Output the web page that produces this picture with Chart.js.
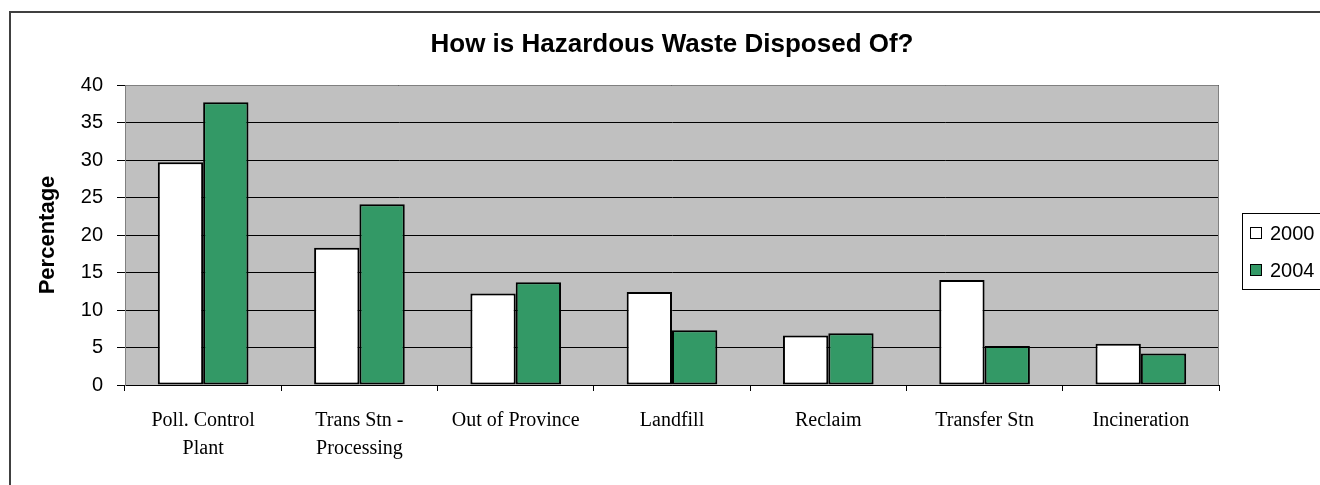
<!DOCTYPE html>
<html><head><meta charset="utf-8">
<script src="https://cdn.jsdelivr.net/npm/chart.js@4"></script>
<style>html,body{margin:0;padding:0;background:#fff;overflow:hidden}#wrap{width:1320px;height:485px;position:relative}</style>
</head><body><div id="wrap"><canvas id="c" width="1320" height="485"></canvas></div>
<script>
const categories = [["Poll. Control","Plant"],["Trans Stn -","Processing"],"Out of Province","Landfill","Reclaim","Transfer Stn","Incineration"];
const values2000 = [29.7, 18.3, 12.2, 12.4, 6.6, 14.0, 5.5];
const values2004 = [37.7, 24.1, 13.7, 7.3, 6.9, 5.2, 4.2];
const seriesLabels = ["2000", "2004"];
const yMin = 0, yMax = 40, yStep = 5;
const titleText = "How is Hazardous Waste Disposed Of?";
const yTitleText = "Percentage";

const decor = {
  id: 'decor',
  beforeDraw(chart) {
    const {ctx, chartArea: a} = chart;
    ctx.save();
    ctx.fillStyle = '#C0C0C0';
    ctx.fillRect(a.left, a.top, a.right - a.left, a.bottom - a.top);
    ctx.strokeStyle = '#404040';
    ctx.lineWidth = 2;
    ctx.beginPath();
    ctx.moveTo(10, 485); ctx.lineTo(10, 12); ctx.lineTo(1320, 12);
    ctx.stroke();
    ctx.restore();
  },
  beforeDatasetsDraw(chart) {
    const {ctx, chartArea: a} = chart;
    ctx.save();
    ctx.strokeStyle = '#808080';
    ctx.lineWidth = 1;
    ctx.beginPath();
    ctx.moveTo(a.left, a.top + 0.5); ctx.lineTo(a.right - 0.5, a.top + 0.5); ctx.lineTo(a.right - 0.5, a.bottom);
    ctx.stroke();
    ctx.restore();
  },
  afterDraw(chart) {
    const {ctx} = chart;
    ctx.save();
    ctx.strokeStyle = '#000';
    ctx.lineWidth = 1;
    ctx.strokeRect(1242.5, 213.5, 100, 76);
    ctx.font = '20px "Liberation Sans", Arial, sans-serif';
    ctx.textBaseline = 'middle';
    ctx.textAlign = 'left';
    chart.data.datasets.forEach((ds, i) => {
      const cy = 233 + i * 37;
      ctx.fillStyle = ds.backgroundColor;
      ctx.fillRect(1250, cy - 6, 12, 12);
      ctx.strokeStyle = '#000';
      ctx.strokeRect(1250.5, cy - 5.5, 11, 11);
      ctx.fillStyle = '#000';
      ctx.fillText(ds.label, 1270, cy + 1);
    });
    ctx.restore();
  }
};

new Chart(document.getElementById('c'), {
  type: 'bar',
  data: {
    labels: categories,
    datasets: [
      {label: seriesLabels[0], data: values2000, backgroundColor: '#FFFFFF', borderColor: '#000', borderWidth: 2, borderSkipped: false},
      {label: seriesLabels[1], data: values2004, backgroundColor: '#339966', borderColor: '#000', borderWidth: 2, borderSkipped: false}
    ]
  },
  options: {
    responsive: false,
    animation: false,
    devicePixelRatio: 1,
    layout: {padding: {top: 0, left: 0, right: 101, bottom: 0}},
    datasets: {bar: {categoryPercentage: 0.58, barPercentage: 1}},
    plugins: {
      legend: {display: false},
      tooltip: {enabled: false},
      title: {
        display: true, text: titleText, fullSize: false, color: '#000',
        font: {family: '"Liberation Sans", Arial, sans-serif', size: 26, weight: 'bold', lineHeight: 1.2},
        padding: {top: 29.4, bottom: 24.4}
      }
    },
    scales: {
      x: {
        afterFit(s) { s.height = 100; },
        grid: {drawOnChartArea: false, offset: true, tickLength: 6, tickColor: '#000', color: '#000'},
        border: {display: true, color: '#000', width: 1},
        ticks: {color: '#000', padding: 16, maxRotation: 0, autoSkip: false,
          font: {family: '"Liberation Serif", "Times New Roman", serif', size: 20, lineHeight: 1.4}}
      },
      y: {
        min: yMin, max: yMax,
        afterFit(s) { s.width = 125; },
        grid: {color: '#000', tickColor: '#000', tickLength: 8, lineWidth: 1},
        border: {display: true, color: '#808080', width: 1},
        ticks: {stepSize: yStep, color: '#000', padding: 14,
          font: {family: '"Liberation Sans", Arial, sans-serif', size: 20}},
        title: {display: true, text: yTitleText, color: '#000', padding: {top: 35, bottom: 0},
          font: {family: '"Liberation Sans", Arial, sans-serif', size: 22, weight: 'bold', lineHeight: 1.2}}
      }
    }
  },
  plugins: [decor]
});
</script></body></html>
